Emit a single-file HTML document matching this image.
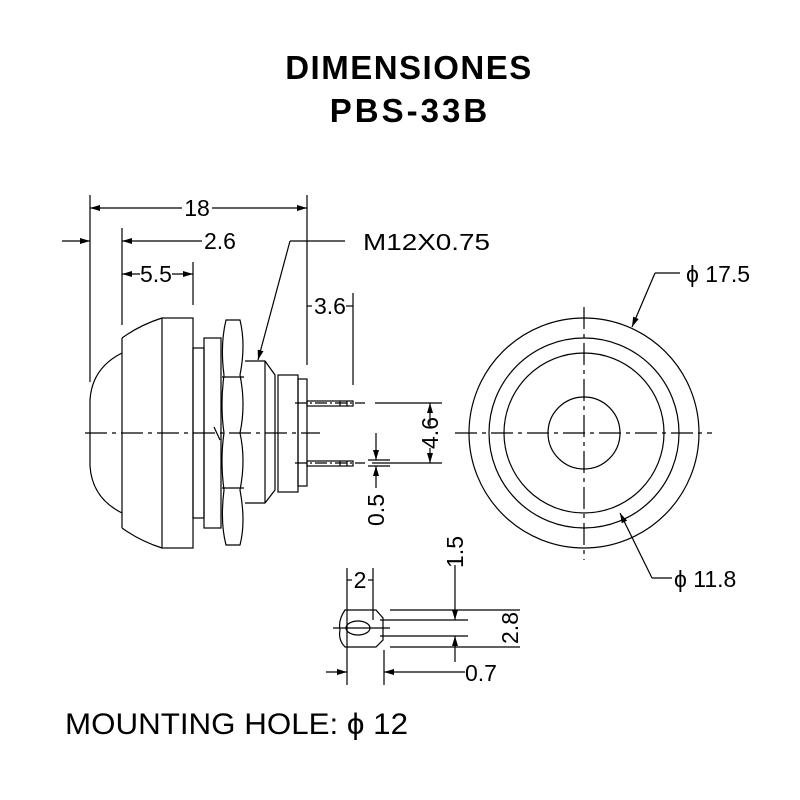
<!DOCTYPE html>
<html><head><style>
body{margin:0;background:#fff;width:800px;height:800px;overflow:hidden}
svg{display:block}
text{font-family:"Liberation Sans",sans-serif;fill:#000}
</style></head><body>
<svg width="800" height="800" viewBox="0 0 800 800" xmlns="http://www.w3.org/2000/svg">
<defs>
<marker id="a" viewBox="0 0 10 6" refX="10" refY="3" markerWidth="10" markerHeight="6" orient="auto-start-reverse" markerUnits="userSpaceOnUse"><path d="M0,0L10,3L0,6z" fill="#000"/></marker>
</defs>
<text x="409" y="79" font-size="33" font-weight="bold" text-anchor="middle" letter-spacing="1.5">DIMENSIONES</text>
<text x="410" y="122" font-size="33" font-weight="bold" text-anchor="middle" letter-spacing="3">PBS-33B</text>

<g stroke="#000" stroke-width="1.2" fill="none">
<line x1="90" y1="195" x2="90" y2="382"/>
<line x1="307" y1="195" x2="307" y2="365"/>
<line x1="122" y1="228" x2="122" y2="325"/>
<line x1="193" y1="262" x2="193" y2="305"/>
<line x1="353" y1="293" x2="353" y2="385"/>
<line x1="90" y1="208" x2="182" y2="208" marker-start="url(#a)"/>
<line x1="212" y1="208" x2="307" y2="208" marker-end="url(#a)"/>
<line x1="62" y1="241" x2="90" y2="241" marker-end="url(#a)"/>
<line x1="122" y1="241" x2="202" y2="241" marker-start="url(#a)"/>
<line x1="290" y1="241" x2="345" y2="241"/>
<line x1="290" y1="241" x2="258" y2="360" marker-end="url(#a)"/>
<line x1="122" y1="274" x2="140" y2="274" marker-start="url(#a)"/>
<line x1="172" y1="274" x2="193" y2="274" marker-end="url(#a)"/>
<line x1="307" y1="306" x2="312" y2="306"/>
<line x1="346" y1="306" x2="353" y2="306"/>
<path d="M122,353 Q92,368 90,400 L90,466 Q92,498 122,513"/>
<path d="M122,338 Q140,325 162,318"/>
<path d="M122,528 Q140,541 162,548"/>
<line x1="122" y1="338" x2="122" y2="528"/>
<rect x="162" y="318" width="31" height="230"/>
<rect x="193" y="348" width="11" height="170"/>
<rect x="204" y="338" width="17" height="190"/>
<path d="M226,320 L240,320 Q246,345 240,375 Q246,405 240,433 Q246,460 240,490 Q246,522 240,545 L226,545 Q220,522 224,490 Q220,460 224,433 Q220,405 224,375 Q220,345 226,320z"/>
<line x1="222" y1="377" x2="244" y2="377"/>
<line x1="222" y1="488" x2="244" y2="488"/>
<line x1="214" y1="427" x2="220" y2="440"/>
<path d="M245,361 L265,361 L275,375 L275,490 L265,503 L245,503"/>
<line x1="265" y1="361" x2="265" y2="503"/>
<rect x="278" y="375" width="20" height="117"/>
<rect x="298" y="379" width="9" height="107"/>
<rect x="307" y="401" width="46" height="5"/>
<rect x="307" y="461" width="46" height="5"/>
<line x1="340" y1="401" x2="340" y2="406"/><line x1="347" y1="401" x2="347" y2="406"/>
<line x1="340" y1="461" x2="340" y2="466"/><line x1="347" y1="461" x2="347" y2="466"/>
<line x1="295" y1="403" x2="365" y2="403" stroke-dasharray="12,3,2,3"/>
<line x1="295" y1="463" x2="365" y2="463" stroke-dasharray="12,3,2,3"/>
<line x1="85" y1="433" x2="320" y2="433" stroke-dasharray="22,5,4,5"/>
<line x1="375" y1="403" x2="442" y2="403"/>
<line x1="372" y1="463" x2="442" y2="463"/>
<line x1="430" y1="403" x2="430" y2="425" marker-start="url(#a)"/>
<line x1="430" y1="448" x2="430" y2="463" marker-end="url(#a)"/>
<line x1="368" y1="460" x2="390" y2="460"/>
<line x1="368" y1="466" x2="390" y2="466"/>
<line x1="376" y1="433" x2="376" y2="460" marker-end="url(#a)"/>
<line x1="376" y1="488" x2="376" y2="466" marker-end="url(#a)"/>
<circle cx="584" cy="433" r="115"/>
<circle cx="584" cy="433" r="95"/>
<circle cx="584" cy="433" r="80"/>
<circle cx="584" cy="433" r="36"/>
<line x1="455" y1="433" x2="712" y2="433" stroke-dasharray="22,5,4,5"/>
<line x1="584" y1="307" x2="584" y2="560" stroke-dasharray="22,5,4,5"/>
<line x1="655" y1="273" x2="680" y2="273"/>
<line x1="655" y1="273" x2="632" y2="327" marker-end="url(#a)"/>
<line x1="652" y1="578" x2="672" y2="578"/>
<line x1="652" y1="578" x2="620" y2="513" marker-end="url(#a)"/>
<path d="M345,610 L376,610 L383,618 L383,640 L376,647 L345,647 Q338,640 340,630 Q338,620 345,610z"/>
<ellipse cx="358" cy="628" rx="12" ry="7"/>
<line x1="333" y1="628" x2="390" y2="628"/>
<line x1="347" y1="568" x2="347" y2="685"/>
<line x1="373" y1="568" x2="373" y2="620"/>
<line x1="384" y1="650" x2="384" y2="685"/>
<line x1="347" y1="580" x2="352" y2="580"/><line x1="368" y1="580" x2="373" y2="580"/>
<line x1="390" y1="610" x2="520" y2="610"/>
<line x1="380" y1="620" x2="468" y2="620"/>
<line x1="380" y1="636" x2="468" y2="636"/>
<line x1="390" y1="647" x2="520" y2="647"/>
<line x1="455" y1="565" x2="455" y2="620" marker-end="url(#a)"/>
<line x1="455" y1="662" x2="455" y2="636" marker-end="url(#a)"/>
<line x1="326" y1="672" x2="347" y2="672" marker-end="url(#a)"/>
<line x1="465" y1="672" x2="384" y2="672" marker-end="url(#a)"/>
</g>
<g font-size="23">
<text x="197" y="216" text-anchor="middle">18</text>
<text x="220" y="249" text-anchor="middle">2.6</text>
<text x="156" y="282" text-anchor="middle">5.5</text>
<text x="330" y="314" text-anchor="middle">3.6</text>
<text x="363" y="250" textLength="127" lengthAdjust="spacingAndGlyphs">M12X0.75</text>
<text transform="translate(438,433) rotate(-90)" text-anchor="middle">4.6</text>
<text transform="translate(384,510) rotate(-90)" text-anchor="middle">0.5</text>
<text x="686" y="282">ϕ 17.5</text>
<text x="674" y="587">ϕ 11.8</text>
<text x="360" y="588" text-anchor="middle">2</text>
<text transform="translate(463,552) rotate(-90)" text-anchor="middle">1.5</text>
<text transform="translate(518,628) rotate(-90)" text-anchor="middle">2.8</text>
<text x="481" y="681" text-anchor="middle">0.7</text>
</g>
<text x="65" y="734" font-size="30" textLength="343" lengthAdjust="spacingAndGlyphs">MOUNTING HOLE:  ϕ 12</text>
</svg>
</body></html>
